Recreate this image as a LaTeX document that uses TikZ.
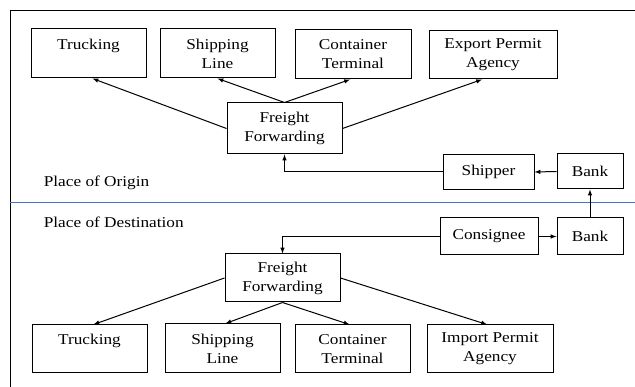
\documentclass[tikz,border=0pt]{standalone}
\usepackage{fontspec}
\setmainfont[FakeStretch=1.15]{Liberation Serif}
\definecolor{sepblue}{RGB}{68,114,196}
\begin{document}
\begin{tikzpicture}[>=latex,x=1pt,y=-1pt,line width=1pt,
  box/.style={draw,align=center,minimum width=115pt,minimum height=49pt,inner sep=0pt,
    font=\fontsize{15}{19}\selectfont},
  small/.style={box,minimum height=35pt}]
\useasboundingbox (0,0) rectangle (635,387);
% frame and separator
\draw (635,11) -- (10,11) -- (10,387);
\draw[color=sepblue,line width=0.7pt] (10,202) -- (635,202);
\node[right,font=\fontsize{15}{19}\selectfont] (orig) at (40,183) {Place of Origin};
\node[right,font=\fontsize{15}{19}\selectfont] (dest) at (40,222) {Place of Destination};
% place of origin
\node[box] (truck1) at (88.5,53.5) {Trucking\\\phantom{Line}};
\node[box] (ship1) at (217.5,53.5) {Shipping\\Line};
\node[box,minimum width=116pt] (cont1) at (353,54.5) {Container\\Terminal};
\node[box,minimum width=128pt,minimum height=48pt] (exp1) at (493,55) {Export Permit\\Agency};
\node[box,minimum height=51pt] (ff1) at (284.5,128.5) {Freight\\Forwarding};
\node[small,minimum width=91pt] (shipper) at (488.5,172) {Shipper};
\node[small,minimum width=66pt] (bank1) at (590,171.5) {Bank};
\draw[->] (ff1.west) -- ([xshift=4pt]truck1.south);
\draw[->] (ff1.north) -- (ship1.south);
\draw[->] (ff1.north) -- ([xshift=-3pt]cont1.south);
\draw[->] (ff1.east) -- ([xshift=-11pt]exp1.south);
\draw[->] (bank1.west) -- (shipper.east);
\draw[->] (shipper.west) -| (ff1.south);
% place of destination
\node[small,minimum width=98pt,minimum height=37pt] (cons) at (489,236.5) {Consignee};
\node[small,minimum width=66pt,minimum height=37pt] (bank2) at (590,236.5) {Bank};
\node[box,minimum height=48pt] (ff2) at (282.5,278) {Freight\\Forwarding};
\node[box,minimum height=48pt] (truck2) at (89.5,349) {Trucking\\\phantom{Line}};
\node[box] (ship2) at (222.5,348.5) {Shipping\\Line};
\node[box,minimum height=48pt] (cont2) at (352.5,349) {Container\\Terminal};
\node[box,minimum width=126pt,minimum height=48pt] (imp2) at (490,349) {Import Permit\\Agency};
\draw[->] (bank2.north) -- (bank1.south);
\draw[->] (cons.east) -- (bank2.west);
\draw[->] (cons.west) -| (ff2.north);
\draw[->] (ff2.west) -- ([xshift=4pt]truck2.north);
\draw[->] (ff2.south) -- ([xshift=3pt]ship2.north);
\draw[->] (ff2.south) -- ([xshift=-3pt]cont2.north);
\draw[->] (ff2.east) -- ([xshift=-3pt]imp2.north);
\end{tikzpicture}
\end{document}
